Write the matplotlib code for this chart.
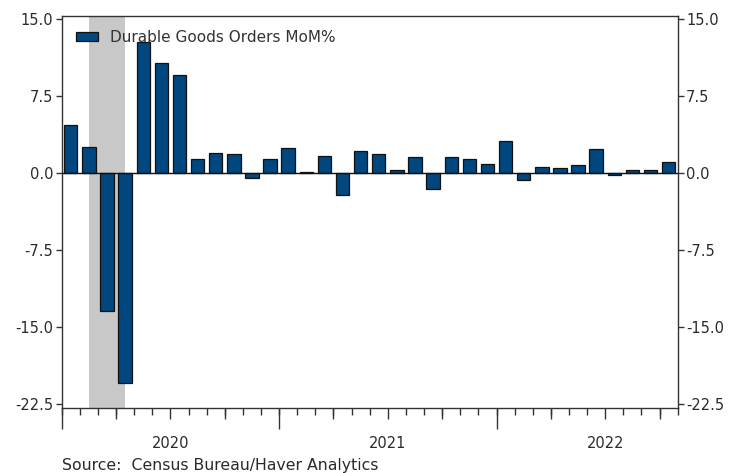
import matplotlib
matplotlib.use("Agg")
import matplotlib.pyplot as plt
import numpy as np

# Data: monthly, Jan 2020 .. Oct 2022
months = [f"{y}-{m:02d}" for y in (2020, 2021, 2022) for m in range(1, 13)][:34]
values = [4.7, 2.6, -13.4, -20.4, 12.8, 10.7, 9.6, 1.4, 2.0, 1.9, -0.5, 1.4,
          2.5, 0.15, 1.7, -2.1, 2.2, 1.9, 0.3, 1.55, -1.5, 1.55, 1.4, 0.9,
          3.1, -0.7, 0.6, 0.47, 0.77, 2.35, -0.2, 0.3, 0.3, 1.1]
year_labels = ["2020", "2021", "2022"]
yticks = [15.0, 7.5, 0.0, -7.5, -15.0, -22.5]
recession = ["2020-02", "2020-04"]
series_name = "Durable Goods Orders MoM%"
source = "Source:  Census Bureau/Haver Analytics"

plt.rcParams['font.family'] = ['DejaVu Sans']
W, H = 747, 473
fig = plt.figure(figsize=(W/100, H/100), dpi=100)
ax = fig.add_axes([61.7/W, 1-408.3/H, (677.7-61.7)/W, (408.3-15.7)/H])

x = np.arange(len(values))
r0 = months.index(recession[0]); r1 = months.index(recession[1])
ax.axvspan(r0, r1, color="#c8c8c8", zorder=0, lw=0)
ax.bar(x, values, width=0.74, color="#00467f", edgecolor="#111111",
       linewidth=0.9, zorder=2, label=series_name)
ax.axhline(0, color="#111111", lw=1.0, zorder=3)

ax.set_xlim(-0.5, len(values) - 0.5)
ax.set_ylim(-22.9, 15.35)

txtc = "#2a2a2a"
ax.set_yticks(yticks)
ax.set_yticklabels([f"{v:.1f}" for v in yticks])
ax.tick_params(axis='y', which='both', left=True, right=True, labelleft=True,
               labelright=True, direction='out', length=4, width=1,
               labelsize=10.5, colors="#333333", labelcolor=txtc, pad=2)

# x ticks: month boundaries minor (short), year centers labeled major (no tick)
bounds = np.arange(-0.5, len(values), 1.0)
ax.set_xticks(bounds, minor=True)
centers = [5.5, 17.5, 29.5]
ax.set_xticks(centers)
ax.set_xticklabels(year_labels)
ax.tick_params(axis='x', which='major', length=0, pad=20, labelsize=10.5,
               labelcolor=txtc)
ax.tick_params(axis='x', which='minor', length=5, width=1, color="#333333")

sec_q = ax.secondary_xaxis('bottom')
sec_q.set_xticks([b for b in bounds if (b + 0.5) % 3 == 0 and (b + 0.5) % 12 != 0])
sec_q.set_xticklabels([])
sec_q.tick_params(length=8, width=1, color="#333333")
sec_q.spines['bottom'].set_visible(False)

sec_y = ax.secondary_xaxis('bottom')
sec_y.set_xticks([b for b in bounds if (b + 0.5) % 12 == 0])
sec_y.set_xticklabels([])
sec_y.tick_params(length=15, width=1, color="#333333")
sec_y.spines['bottom'].set_visible(False)

for s in ax.spines.values():
    s.set_color("#333333")
    s.set_linewidth(1.0)

leg = ax.legend(loc='upper left', frameon=False, fontsize=11,
                handlelength=1.45, handleheight=0.55, borderaxespad=0.55,
                bbox_to_anchor=(0.0, 1.0), handletextpad=0.75)
for t in leg.get_texts():
    t.set_color("#333333")

fig.text(62/W, 1-465/H, source, fontsize=11.3, color=txtc, va='center', ha='left')

fig.savefig("out.png", dpi=100)
